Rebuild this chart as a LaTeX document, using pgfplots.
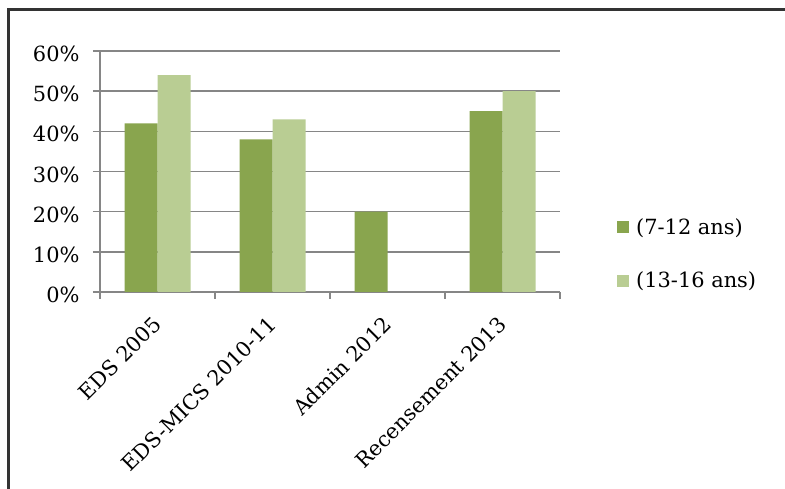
\documentclass[border=0pt]{standalone}
\usepackage{pgfplots}
\pgfplotsset{compat=1.18}
\usepackage{fontspec}
\setmainfont{DejaVu Serif}
\definecolor{darkg}{HTML}{89A54E}
\definecolor{lightg}{HTML}{B9CD93}
\definecolor{gridg}{HTML}{868686}
\begin{document}
\begin{tikzpicture}[x=1bp,y=1bp]
\useasboundingbox (0,0) rectangle (785,489);
\draw[line width=3bp, color=black!80] (8,0) -- (8,479) -- (785,479);
\begin{axis}[
  at={(100bp,197bp)}, anchor=south west,
  width=460bp, height=241bp, scale only axis,
  xmin=-0.5, xmax=3.5, ymin=0, ymax=60,
  ybar=0pt, bar width=33bp,
  axis x line*=bottom, axis y line*=left,
  axis line style={gridg, line width=1.5bp},
  ymajorgrids, grid style={gridg, line width=1.5bp},
  ytick={0,10,...,60},
  yticklabel={\pgfmathprintnumber{\tick}\%},
  /pgf/number format/assume math mode=true,
  xtick={-0.5,0.5,1.5,2.5,3.5},
  xticklabels={},
  extra x ticks={0,1,2,3},
  extra x tick labels={EDS 2005, EDS-MICS 2010-11, Admin 2012, Recensement 2013},
  extra x tick style={major tick length=0pt, grid=none,
     xticklabel style={rotate=45, anchor=north east, inner sep=0pt, xshift=-20bp, yshift=-12bp}},
  tick align=outside, major tick length=7bp,
  tick style={gridg, line width=1.5bp},
  ticklabel style={font=\fontsize{21}{25}\selectfont},
  yticklabel style={xshift=-10bp, yshift=-3bp},
  legend style={at={(1,0.158)}, anchor=west, xshift=57bp, draw=none, fill=none,
     font=\fontsize{21}{25}\selectfont, row sep=32bp, inner sep=0pt},
  legend cell align=left,
  legend image code/.code={\fill[#1] (0bp,-6bp) rectangle (12bp,6bp); \path (17bp,0bp);},
]
\addplot[fill=darkg, draw=none] coordinates {(0,42) (1,38) (2,20) (3,45)};
\addplot[fill=lightg, draw=none] coordinates {(0,54) (1,43) (3,50)};
\legend{(7-12 ans), (13-16 ans)}
\end{axis}
\end{tikzpicture}
\end{document}
